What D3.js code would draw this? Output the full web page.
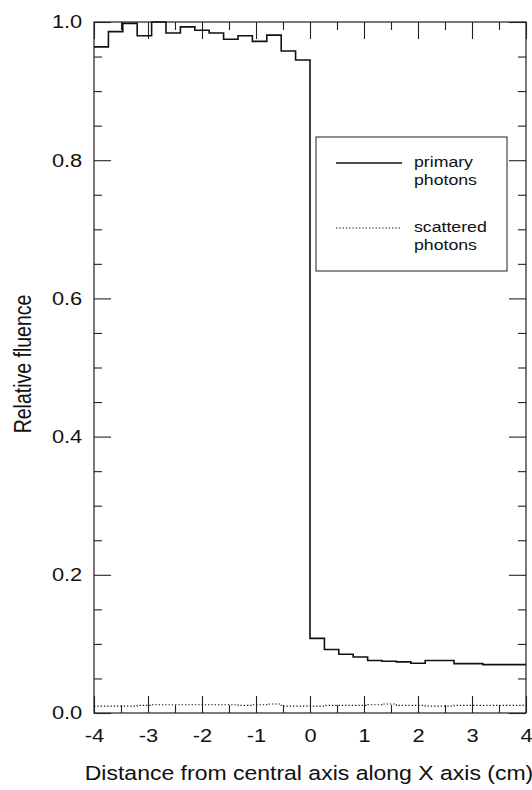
<!DOCTYPE html>
<html>
<head>
<meta charset="utf-8">
<script src="https://cdn.jsdelivr.net/npm/d3@7"></script>
<style>
  body { margin: 0; background: #fff; }
  svg text { font-family: "Liberation Sans", Arial, sans-serif; fill: #111; }
  .axis path { display: none; }
  .axis line { stroke: #222; stroke-width: 1.1; }
</style>
</head>
<body>
<div id="chart"></div>
<script>
// Bin edges along X (cm), 30 bins from -4 to 4
const binEdges = [-4.000, -3.733, -3.467, -3.200, -2.933, -2.667, -2.400, -2.133, -1.867, -1.600,
    -1.333, -1.067, -0.800, -0.533, -0.267, 0.000, 0.267, 0.533, 0.800, 1.067,
    1.333, 1.600, 1.867, 2.133, 2.400, 2.667, 2.933, 3.200, 3.467, 3.733, 4.000];

// Relative fluence per bin
const primary = [0.964, 0.986, 0.998, 0.980, 1.000, 0.984, 0.993, 0.988, 0.984, 0.975,
    0.980, 0.972, 0.981, 0.958, 0.945, 0.108, 0.092, 0.085, 0.081, 0.076,
    0.075, 0.074, 0.072, 0.076, 0.076, 0.0715, 0.0715, 0.070, 0.070, 0.070];
const scattered = [0.010, 0.010, 0.010, 0.011, 0.012, 0.012, 0.012, 0.012, 0.012, 0.012,
    0.011, 0.012, 0.013, 0.010, 0.010, 0.010, 0.011, 0.011, 0.011, 0.012,
    0.013, 0.011, 0.011, 0.010, 0.010, 0.011, 0.011, 0.011, 0.011, 0.011];

const xMajor = [-4, -3, -2, -1, 0, 1, 2, 3, 4];
const xMinor = [-3.5, -2.5, -1.5, -0.5, 0.5, 1.5, 2.5, 3.5];
const yMajor = [0.0, 0.2, 0.4, 0.6, 0.8, 1.0];
const yMinor = [0.05, 0.1, 0.15, 0.25, 0.3, 0.35, 0.45, 0.5, 0.55, 0.65, 0.7, 0.75, 0.85, 0.9, 0.95];

const legendLabels = [["primary", "photons"], ["scattered", "photons"]];

const width = 532;
const height = 790;
const plot = {left: 94, right: 526, top: 22, bottom: 713};
const sx = 1.18; // the figure is stretched a little horizontally

const svg = d3.select("#chart").append("svg")
    .attr("width", width)
    .attr("height", height);

const xScale = d3.scaleLinear().domain([-4, 4]).range([plot.left, plot.right]);
const yScale = d3.scaleLinear().domain([0, 1]).range([plot.bottom, plot.top]);

// frame
svg.append("rect")
    .attr("x", plot.left)
    .attr("y", plot.top)
    .attr("width", plot.right - plot.left)
    .attr("height", plot.bottom - plot.top)
    .attr("fill", "none")
    .attr("stroke", "#222")
    .attr("stroke-width", 1.2);

// axes with inward ticks
const bottomAxis = svg.append("g")
    .attr("class", "axis")
    .attr("transform", `translate(0, ${plot.bottom})`)
    .call(d3.axisBottom(xScale).tickValues(xMajor).tickSize(-17).tickPadding(16)
        .tickFormat(d => String(d)));
bottomAxis.selectAll("text")
    .attr("font-size", 18.5)
    .attr("transform", `scale(${sx},1)`);

svg.append("g")
    .attr("class", "axis")
    .attr("transform", `translate(0, ${plot.bottom})`)
    .call(d3.axisBottom(xScale).tickValues(xMinor).tickSize(-8).tickFormat(""));

svg.append("g")
    .attr("class", "axis")
    .attr("transform", `translate(0, ${plot.top})`)
    .call(d3.axisTop(xScale).tickValues(xMajor).tickSize(-17).tickFormat(""));
svg.append("g")
    .attr("class", "axis")
    .attr("transform", `translate(0, ${plot.top})`)
    .call(d3.axisTop(xScale).tickValues(xMinor).tickSize(-8).tickFormat(""));

const leftAxis = svg.append("g")
    .attr("class", "axis")
    .attr("transform", `translate(${plot.left}, 0)`)
    .call(d3.axisLeft(yScale).tickValues(yMajor).tickSize(-17).tickPadding(10)
        .tickFormat(d3.format(".1f")));
leftAxis.selectAll("text")
    .attr("font-size", 18.5)
    .attr("transform", `scale(${sx},1)`);

svg.append("g")
    .attr("class", "axis")
    .attr("transform", `translate(${plot.left}, 0)`)
    .call(d3.axisLeft(yScale).tickValues(yMinor).tickSize(-8).tickFormat(""));

svg.append("g")
    .attr("class", "axis")
    .attr("transform", `translate(${plot.right}, 0)`)
    .call(d3.axisRight(yScale).tickValues(yMajor).tickSize(-17).tickFormat(""));
svg.append("g")
    .attr("class", "axis")
    .attr("transform", `translate(${plot.right}, 0)`)
    .call(d3.axisRight(yScale).tickValues(yMinor).tickSize(-8).tickFormat(""));

// axis titles
svg.append("text")
    .attr("transform", `translate(309, 780) scale(${sx},1)`)
    .attr("text-anchor", "middle")
    .attr("font-size", 19.5)
    .text("Distance from central axis along X axis (cm)");

svg.append("text")
    .attr("transform", `translate(31, 364) scale(${sx},1) rotate(-90)`)
    .attr("text-anchor", "middle")
    .attr("font-size", 19.5)
    .text("Relative fluence");

// step lines
const stepLine = d3.line()
    .x(d => xScale(d[0]))
    .y(d => yScale(d[1]))
    .curve(d3.curveStepAfter);

function stepPoints(values) {
    const pts = values.map((v, i) => [binEdges[i], v]);
    pts.push([binEdges[binEdges.length - 1], values[values.length - 1]]);
    return pts;
}

svg.append("path")
    .datum(stepPoints(scattered))
    .attr("fill", "none")
    .attr("stroke", "#111")
    .attr("stroke-width", 1.1)
    .attr("stroke-dasharray", "1.3,2")
    .attr("d", stepLine);

svg.append("path")
    .datum(stepPoints(primary))
    .attr("fill", "none")
    .attr("stroke", "#111")
    .attr("stroke-width", 1.6)
    .attr("d", stepLine);

// legend
const legend = svg.append("g").attr("class", "legend");
legend.append("rect")
    .attr("x", 316)
    .attr("y", 137)
    .attr("width", 191)
    .attr("height", 134)
    .attr("fill", "#fff")
    .attr("stroke", "#333")
    .attr("stroke-width", 1.1);

const legendRows = [
    {y: 163, dash: null, width: 1.4},
    {y: 228, dash: "1.3,2", width: 1.1}
];
legendRows.forEach((row, i) => {
    legend.append("line")
        .attr("x1", 336).attr("x2", 402)
        .attr("y1", row.y).attr("y2", row.y)
        .attr("stroke", "#111")
        .attr("stroke-width", row.width)
        .attr("stroke-dasharray", row.dash);
    legendLabels[i].forEach((t, j) => {
        legend.append("text")
            .attr("transform", `translate(414, ${row.y + 4 + j * 17.5}) scale(${sx},1)`)
            .attr("font-size", 15)
            .text(t);
    });
});
</script>
</body>
</html>
